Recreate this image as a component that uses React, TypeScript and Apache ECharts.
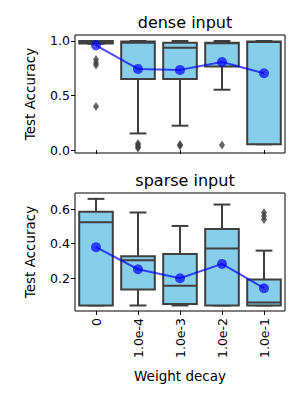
import React, { useEffect, useRef } from "react";
import * as echarts from "echarts";

const categories = ["0", "1.0e-4", "1.0e-3", "1.0e-2", "1.0e-1"];

const denseMin = [0.975, 0.152, 0.223, 0.553, 0.052];
const denseQ1 = [0.978, 0.652, 0.652, 0.765, 0.052];
const denseMedian = [0.99, 0.985, 0.939, 0.98, 0.99];
const denseQ3 = [1.0, 0.995, 0.985, 0.985, 0.995];
const denseMax = [1.0, 1.0, 1.0, 1.0, 1.0];
const denseMean = [0.96, 0.744, 0.735, 0.807, 0.704];
const denseOutliers = [
  [0, 0.83], [0, 0.8], [0, 0.78], [0, 0.4],
  [1, 0.06], [1, 0.045], [1, 0.03], [1, 0.018],
  [2, 0.05], [2, 0.04],
  [3, 0.045],
];

const sparseMin = [0.042, 0.042, 0.042, 0.042, 0.042];
const sparseQ1 = [0.042, 0.134, 0.051, 0.042, 0.042];
const sparseMedian = [0.525, 0.304, 0.157, 0.372, 0.059];
const sparseQ3 = [0.585, 0.328, 0.341, 0.486, 0.192];
const sparseMax = [0.66, 0.581, 0.503, 0.627, 0.36];
const sparseMean = [0.38, 0.252, 0.2, 0.283, 0.142];
const sparseOutliers = [[4, 0.58], [4, 0.56], [4, 0.54]];

const denseTicks = [0, 0.5, 1.0];
const sparseTicks = [0.2, 0.4, 0.6];

const FONT = "DejaVu Sans";
const EDGE = "#3f3f3f";
const FILL = "#87ceeb";

function boxData(mn: number[], q1: number[], md: number[], q3: number[], mx: number[]) {
  return categories.map((_, i) => [i, mn[i], q1[i], md[i], q3[i], mx[i]]);
}

function renderBox(params: any, api: any) {
  const x = api.value(0);
  const lo = api.coord([x, api.value(1)]);
  const q1 = api.coord([x, api.value(2)]);
  const md = api.coord([x, api.value(3)]);
  const q3 = api.coord([x, api.value(4)]);
  const hi = api.coord([x, api.value(5)]);
  const cx = lo[0];
  const bw = api.size([1, 0])[0] * 0.8;
  const cap = bw / 2;
  const ls = { stroke: EDGE, lineWidth: 2 };
  return {
    type: "group",
    children: [
      { type: "line", shape: { x1: cx, y1: q1[1], x2: cx, y2: lo[1] }, style: ls },
      { type: "line", shape: { x1: cx, y1: q3[1], x2: cx, y2: hi[1] }, style: ls },
      { type: "line", shape: { x1: cx - cap / 2, y1: lo[1], x2: cx + cap / 2, y2: lo[1] }, style: ls },
      { type: "line", shape: { x1: cx - cap / 2, y1: hi[1], x2: cx + cap / 2, y2: hi[1] }, style: ls },
      {
        type: "rect",
        shape: { x: cx - bw / 2, y: q3[1], width: bw, height: Math.max(q1[1] - q3[1], 0.5) },
        style: { fill: FILL, stroke: EDGE, lineWidth: 2 },
      },
      { type: "line", shape: { x1: cx - bw / 2, y1: md[1], x2: cx + bw / 2, y2: md[1] }, style: ls },
    ],
  };
}

export default function App() {
  const ref = useRef<HTMLDivElement>(null);
  useEffect(() => {
    if (!ref.current) return;
    const chart = echarts.init(ref.current, null, { renderer: "svg" });
    const yAxisCommon = (min: number, max: number, ticks: number[], gi: number) => ({
      type: "value",
      gridIndex: gi,
      min,
      max,
      splitLine: { show: false },
      axisLine: { show: false },
      axisTick: { show: true, length: 4, lineStyle: { color: "#000" }, customValues: ticks },
      axisLabel: {
        customValues: ticks,
        fontFamily: FONT,
        fontSize: 12.5,
        color: "#000",
        margin: 5,
        formatter: (v: number) => v.toFixed(1),
      },
      name: "Test Accuracy",
      nameLocation: "middle",
      nameGap: 38,
      nameTextStyle: { fontFamily: FONT, fontSize: 13.5, color: "#000" },
    });
    chart.setOption({
      animation: false,
      backgroundColor: "#fff",
      title: [
        { text: "dense input", left: 180, top: 9, textAlign: "center", textStyle: { fontFamily: FONT, fontSize: 16, fontWeight: "normal", color: "#000" } },
        { text: "sparse input", left: 180, top: 167, textAlign: "center", textStyle: { fontFamily: FONT, fontSize: 16, fontWeight: "normal", color: "#000" } },
      ],
      grid: [
        { left: 75, top: 35, width: 210, height: 118, show: true, borderColor: "#000", borderWidth: 1, backgroundColor: "transparent" },
        { left: 75, top: 193, width: 210, height: 118, show: true, borderColor: "#000", borderWidth: 1, backgroundColor: "transparent" },
      ],
      xAxis: [
        {
          type: "category",
          gridIndex: 0,
          data: categories,
          boundaryGap: true,
          axisLine: { show: false },
          axisTick: { show: true, alignWithLabel: true, length: 4, lineStyle: { color: "#000" } },
          axisLabel: { show: false },
        },
        {
          type: "category",
          gridIndex: 1,
          data: categories,
          boundaryGap: true,
          axisLine: { show: false },
          axisTick: { show: true, alignWithLabel: true, length: 4, lineStyle: { color: "#000" } },
          axisLabel: { rotate: 90, fontFamily: FONT, fontSize: 12.5, color: "#000", margin: 7 },
          name: "Weight decay",
          nameLocation: "middle",
          nameGap: 58,
          nameTextStyle: { fontFamily: FONT, fontSize: 13.5, color: "#000" },
        },
      ],
      yAxis: [
        yAxisCommon(-0.0275, 1.055, denseTicks, 0),
        yAxisCommon(0.01, 0.694, sparseTicks, 1),
      ],
      series: [
        {
          type: "custom",
          xAxisIndex: 0,
          yAxisIndex: 0,
          renderItem: renderBox,
          data: boxData(denseMin, denseQ1, denseMedian, denseQ3, denseMax),
          encode: { x: 0, y: [1, 2, 3, 4, 5] },
          z: 2,
        },
        {
          type: "scatter",
          xAxisIndex: 0,
          yAxisIndex: 0,
          data: denseOutliers,
          symbol: "diamond",
          symbolSize: [6, 9],
          itemStyle: { color: EDGE },
          z: 3,
        },
        {
          type: "line",
          xAxisIndex: 0,
          yAxisIndex: 0,
          data: denseMean,
          symbol: "circle",
          symbolSize: 10,
          lineStyle: { color: "#0000ff", width: 2, opacity: 0.7 },
          itemStyle: { color: "#0000ff", opacity: 0.7 },
          z: 5,
        },
        {
          type: "custom",
          xAxisIndex: 1,
          yAxisIndex: 1,
          renderItem: renderBox,
          data: boxData(sparseMin, sparseQ1, sparseMedian, sparseQ3, sparseMax),
          encode: { x: 0, y: [1, 2, 3, 4, 5] },
          z: 2,
        },
        {
          type: "scatter",
          xAxisIndex: 1,
          yAxisIndex: 1,
          data: sparseOutliers,
          symbol: "diamond",
          symbolSize: [6, 9],
          itemStyle: { color: EDGE },
          z: 3,
        },
        {
          type: "line",
          xAxisIndex: 1,
          yAxisIndex: 1,
          data: sparseMean,
          symbol: "circle",
          symbolSize: 10,
          lineStyle: { color: "#0000ff", width: 2, opacity: 0.7 },
          itemStyle: { color: "#0000ff", opacity: 0.7 },
          z: 5,
        },
      ],
    });
    return () => chart.dispose();
  }, []);
  return <div ref={ref} style={{ width: 300, height: 400, margin: -8 }} />;
}
